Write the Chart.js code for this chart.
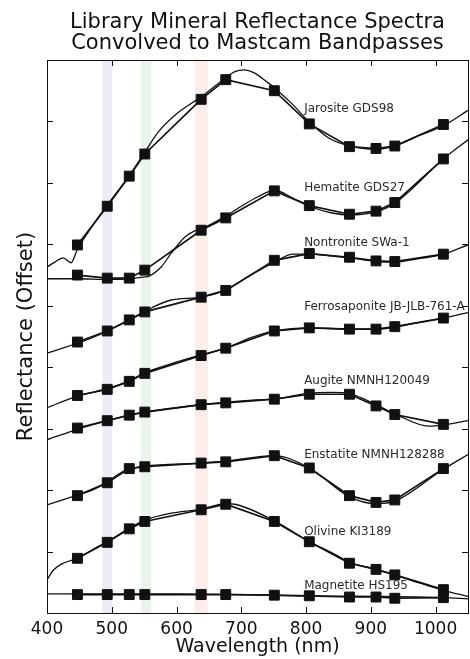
<!DOCTYPE html>
<html>
<head>
<meta charset="utf-8">
<script src="https://cdn.jsdelivr.net/npm/chart.js@4.4.0/dist/chart.umd.min.js"></script>
<style>
    html, body { margin: 0; padding: 0; background: #fff; overflow: hidden; }
    .wrap { width: 470px; height: 659px; overflow: hidden; }
</style>
</head>
<body>
<div class="wrap"><canvas class="spectra-chart" width="476" height="659"></canvas></div>
<script>
// Mastcam filter centres (nm)
const mastcamNm = [447, 493, 527, 551, 638, 676, 751, 805, 867, 908, 937, 1012]

// reflectance (offset), one tick = 1 unit
const jarositeBands = [5.99, 6.62, 7.11, 7.47, 8.36, 8.68, 8.50, 7.96, 7.59, 7.56, 7.60, 7.95]
const jarositeLibNm = [400, 412, 425, 437, 447, 470, 493, 527, 551, 572, 602, 638, 660, 676, 690, 704, 720, 740, 751, 780, 805, 835, 867, 908, 937, 970, 1012, 1050]
const jarositeLib = [5.63, 5.71, 5.78, 5.70, 5.92, 6.30, 6.64, 7.12, 7.50, 7.83, 8.14, 8.40, 8.58, 8.71, 8.81, 8.84, 8.79, 8.64, 8.55, 8.27, 7.99, 7.73, 7.60, 7.55, 7.60, 7.75, 7.93, 8.18]

const hematiteBands = [5.50, 5.45, 5.45, 5.58, 6.23, 6.43, 6.87, 6.63, 6.49, 6.54, 6.68, 7.39]
const hematiteLibNm = [400, 447, 493, 527, 551, 557, 577, 592, 613, 628, 638, 676, 700, 725, 751, 780, 805, 840, 867, 908, 937, 1012, 1050]
const hematiteLib = [5.44, 5.44, 5.43, 5.44, 5.47, 5.48, 5.64, 5.86, 6.12, 6.22, 6.25, 6.46, 6.62, 6.77, 6.88, 6.75, 6.62, 6.51, 6.48, 6.53, 6.67, 7.39, 7.70]

const nontroniteBands = [4.41, 4.59, 4.77, 4.90, 5.14, 5.25, 5.74, 5.85, 5.79, 5.73, 5.72, 5.84]
const nontroniteLibNm = [400, 430, 447, 470, 493, 527, 551, 590, 638, 676, 715, 751, 780, 805, 840, 867, 908, 937, 970, 1012, 1050]
const nontroniteLib = [4.23, 4.33, 4.39, 4.48, 4.59, 4.77, 4.91, 5.09, 5.14, 5.26, 5.50, 5.71, 5.84, 5.84, 5.81, 5.78, 5.72, 5.71, 5.76, 5.84, 5.99]

const ferrosaponiteBands = [3.54, 3.64, 3.77, 3.90, 4.19, 4.31, 4.59, 4.64, 4.62, 4.62, 4.66, 4.80]
const ferrosaponiteLibNm = [400, 447, 493, 527, 551, 590, 638, 676, 715, 751, 805, 867, 908, 937, 970, 1012, 1050]
const ferrosaponiteLib = [3.34, 3.53, 3.65, 3.78, 3.91, 4.05, 4.20, 4.31, 4.48, 4.59, 4.64, 4.62, 4.62, 4.65, 4.72, 4.80, 4.89]

const augiteBands = [3.01, 3.13, 3.22, 3.27, 3.39, 3.42, 3.48, 3.56, 3.56, 3.37, 3.23, 3.07]
const augiteLibNm = [400, 447, 493, 527, 551, 638, 676, 724, 751, 805, 840, 867, 908, 937, 990, 1012, 1050]
const augiteLib = [2.82, 2.99, 3.13, 3.22, 3.27, 3.39, 3.43, 3.47, 3.48, 3.58, 3.59, 3.57, 3.39, 3.24, 3.04, 3.06, 3.13]

const enstatiteBands = [1.91, 2.12, 2.35, 2.38, 2.44, 2.46, 2.56, 2.36, 1.91, 1.80, 1.84, 2.35]
const enstatiteLibNm = [400, 447, 470, 493, 515, 527, 551, 638, 676, 751, 805, 867, 908, 937, 1012, 1050]
const enstatiteLib = [1.76, 1.92, 2.00, 2.13, 2.29, 2.34, 2.39, 2.44, 2.47, 2.56, 2.36, 1.89, 1.78, 1.82, 2.34, 2.58]

const olivineBands = [0.89, 1.15, 1.37, 1.49, 1.68, 1.77, 1.49, 1.16, 0.81, 0.71, 0.62, 0.38]
const olivineLibNm = [400, 410, 425, 447, 470, 493, 527, 551, 590, 638, 676, 690, 751, 805, 840, 867, 908, 937, 975, 1012, 1050]
const olivineLib = [0.54, 0.70, 0.81, 0.89, 1.03, 1.16, 1.38, 1.51, 1.62, 1.69, 1.78, 1.77, 1.50, 1.16, 0.98, 0.83, 0.71, 0.62, 0.49, 0.37, 0.27]

const magnetiteBands = [0.30, 0.30, 0.30, 0.30, 0.30, 0.30, 0.29, 0.28, 0.26, 0.26, 0.24, 0.25]
const magnetiteLibNm = [400, 600, 800, 1012, 1050]
const magnetiteLib = [0.31, 0.31, 0.28, 0.25, 0.23]

const mineralNames = ["Jarosite GDS98", "Hematite GDS27", "Nontronite SWa-1", "Ferrosaponite JB-JLB-761-A", "Augite NMNH120049", "Enstatite NMNH128288", "Olivine KI3189", "Magnetite HS195"]
const labelY = [8.21, 6.92, 6.02, 4.98, 3.78, 2.57, 1.32, 0.44]
const labelNm = 797

// Mastcam L0 bandpasses shown as shaded strips
const stripNm = [493, 553, 638]
const stripWidthNm = [15, 16, 20]
const stripColors = ["rgba(160, 160, 210, 0.2)", "rgba(150, 200, 150, 0.2)", "rgba(235, 165, 150, 0.2)"]

const ink = "#111"

function toPoints(xs, ys) {
    return xs.map((x, i) => ({ x: x, y: ys[i] }))
}

const spectra = [
    [jarositeLibNm, jarositeLib, jarositeBands],
    [hematiteLibNm, hematiteLib, hematiteBands],
    [nontroniteLibNm, nontroniteLib, nontroniteBands],
    [ferrosaponiteLibNm, ferrosaponiteLib, ferrosaponiteBands],
    [augiteLibNm, augiteLib, augiteBands],
    [enstatiteLibNm, enstatiteLib, enstatiteBands],
    [olivineLibNm, olivineLib, olivineBands],
    [magnetiteLibNm, magnetiteLib, magnetiteBands]
]

const datasets = []
spectra.forEach(([libNm, lib, bands], i) => {
    datasets.push({
        label: mineralNames[i] + " library",
        data: toPoints(libNm, lib),
        borderColor: ink,
        borderWidth: 1.3,
        pointRadius: 0,
        cubicInterpolationMode: "monotone"
    })
    datasets.push({
        label: mineralNames[i] + " Mastcam",
        data: toPoints(mastcamNm, bands),
        borderColor: ink,
        backgroundColor: ink,
        borderWidth: 1.7,
        pointStyle: "rect",
        pointRadius: 7,
        pointBorderWidth: 1,
        pointBackgroundColor: ink,
        pointBorderColor: ink
    })
})

const stripPlugin = {
    id: "strips",
    beforeDatasetsDraw(chart) {
        const { ctx, chartArea, scales } = chart
        ctx.save()
        stripNm.forEach((nm, i) => {
            const x1 = scales.x.getPixelForValue(nm - stripWidthNm[i] / 2)
            const x2 = scales.x.getPixelForValue(nm + stripWidthNm[i] / 2)
            ctx.fillStyle = stripColors[i]
            ctx.fillRect(x1, chartArea.top, x2 - x1, chartArea.bottom - chartArea.top)
        })
        ctx.restore()
    }
}

// matplotlib-like frame with inward ticks, plus the mineral names
const framePlugin = {
    id: "frame",
    afterDatasetsDraw(chart) {
        const { ctx, chartArea, scales } = chart
        const { left, right, top, bottom } = chartArea
        ctx.save()
        ctx.strokeStyle = ink
        ctx.lineWidth = 1
        ctx.strokeRect(Math.round(left) + 0.5, Math.round(top) + 0.5, Math.round(right - left), Math.round(bottom - top))
        ctx.beginPath()
        for (let nm = 400; nm <= 1050; nm += 100) {
            const x = Math.round(scales.x.getPixelForValue(nm)) + 0.5
            ctx.moveTo(x, bottom); ctx.lineTo(x, bottom - 6)
            ctx.moveTo(x, top); ctx.lineTo(x, top + 6)
        }
        for (let v = 0; v <= 9; v++) {
            const y = Math.round(scales.y.getPixelForValue(v)) + 0.5
            ctx.moveTo(left, y); ctx.lineTo(left + 6, y)
            ctx.moveTo(right, y); ctx.lineTo(right - 6, y)
        }
        ctx.stroke()

        ctx.fillStyle = "#2a2a2a"
        ctx.font = "12px 'DejaVu Sans'"
        ctx.textAlign = "left"
        ctx.textBaseline = "middle"
        mineralNames.forEach((name, i) => {
            ctx.fillText(name, scales.x.getPixelForValue(labelNm), scales.y.getPixelForValue(labelY[i]))
        })
        ctx.restore()
    }
}

Chart.defaults.font.family = "'DejaVu Sans'"
Chart.defaults.color = "#111"

const chartEl = document.querySelector(".spectra-chart")
const spectraChart = new Chart(chartEl.getContext("2d"), {
    type: "line",
    data: { datasets: datasets },
    options: {
        responsive: false,
        animation: false,
        layout: { padding: { top: 1, right: 2, left: 0, bottom: 0 } },
        plugins: {
            legend: { display: false },
            tooltip: { enabled: false },
            title: {
                display: true,
                fullSize: false,
                text: ["Library Mineral Reflectance Spectra", "Convolved to Mastcam Bandpasses"],
                font: { size: 21, weight: "normal", lineHeight: 1.0 },
                color: "#111",
                padding: { top: 11, bottom: 6 }
            }
        },
        scales: {
            x: {
                type: "linear",
                min: 400,
                max: 1050,
                grid: { display: false },
                border: { display: false },
                ticks: {
                    stepSize: 100,
                    includeBounds: false,
                    padding: -2,
                    maxRotation: 0,
                    font: { size: 17 },
                    color: "#111",
                    callback: (value) => String(value)
                },
                title: { display: true, text: "Wavelength (nm)", font: { size: 19 }, color: "#111", padding: { top: 0, bottom: 1 } },
                afterFit(scale) { scale.height = 46 }
            },
            y: {
                min: 0,
                max: 9,
                grid: { display: false },
                border: { display: false },
                ticks: { display: false, stepSize: 1 },
                title: { display: true, text: "Reflectance (Offset)", font: { size: 21 }, color: "#111", padding: { top: 14, bottom: 0 } },
                afterFit(scale) { scale.width = 47 }
            }
        }
    },
    plugins: [stripPlugin, framePlugin]
})
</script>
</body>
</html>
